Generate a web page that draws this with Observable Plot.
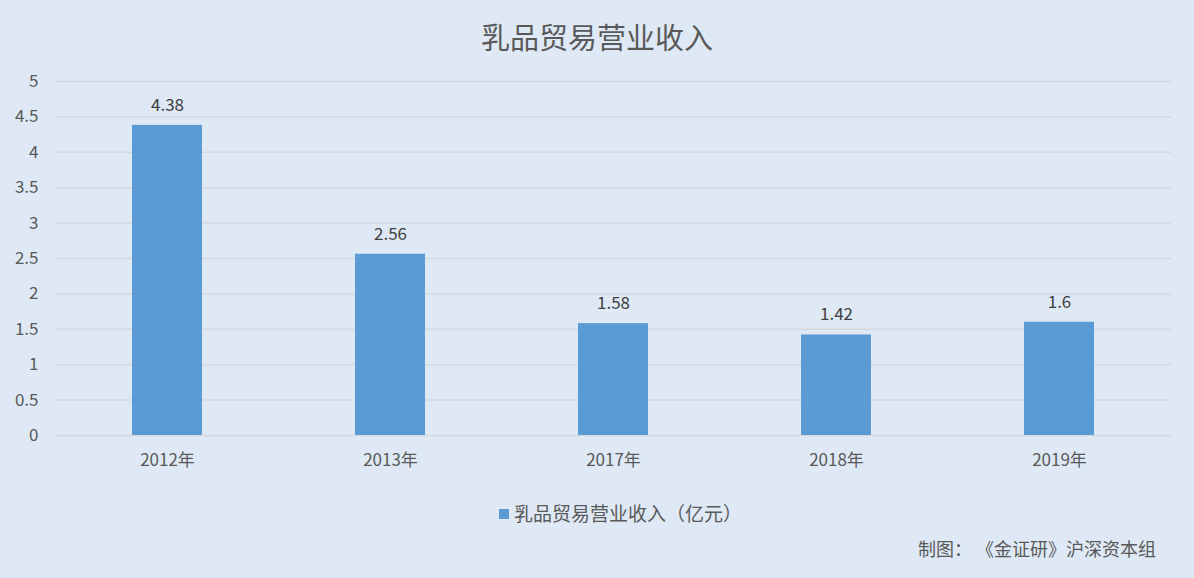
<!DOCTYPE html>
<html><head><meta charset="utf-8">
<script src="https://cdn.jsdelivr.net/npm/d3@7"></script>
<script src="https://cdn.jsdelivr.net/npm/@observablehq/plot@0.6"></script>
<style>
html,body{margin:0;padding:0;background:#dee9f5;}
body{width:1194px;height:578px;overflow:hidden;font-family:"Noto Sans CJK SC","Noto Sans",sans-serif;color:#595959;position:relative;}
#title{height:50px;line-height:72px;text-align:center;font-size:29px;color:#595959;}
#legend{position:absolute;top:499px;left:499px;font-size:19px;white-space:nowrap;}
#legend .sw{display:inline-block;width:10px;height:10px;background:#5b9bd5;margin-right:5px;vertical-align:2px;}
#caption{position:absolute;top:535px;right:38px;font-size:18px;white-space:pre;}
</style></head>
<body>
<div id="title">乳品贸易营业收入</div>
<div id="chart"></div>
<div id="legend"><span class="sw"></span>乳品贸易营业收入（亿元）</div>
<div id="caption">制图： 《金证研》沪深资本组</div>
<script>
const years = ["2012年","2013年","2017年","2018年","2019年"];
const revenue = [4.38, 2.56, 1.58, 1.42, 1.6];
const revenueLabels = ["4.38","2.56","1.58","1.42","1.6"];
const yTicks = [0,0.5,1,1.5,2,2.5,3,3.5,4,4.5,5];

const data = years.map((y,i)=>({year:y, value:revenue[i], label:revenueLabels[i]}));

const chart = Plot.plot({
  width: 1194,
  height: 430,
  marginTop: 31,
  marginBottom: 45,
  marginLeft: 55,
  marginRight: 23,
  style: {background:"transparent", fontFamily:'"Noto Sans CJK SC","Noto Sans",sans-serif', fontSize:"17px", color:"#595959"},
  x: {domain: years, paddingInner: 0.686, paddingOuter: 0.343, label: null},
  y: {domain: [0,5], label: null},
  marks: [
    Plot.gridY(yTicks, {stroke:"#d6d9de", strokeOpacity:1, strokeWidth:1.5}),
    Plot.barY(data, {x:"year", y:"value", fill:"#5b9bd5"}),
    Plot.text(data, {x:"year", y:"value", text:"label", dy:-20, fill:"#404040", fontSize:17}),
    Plot.axisX({tickSize:0, tickPadding:18, fontSize:17}),
    Plot.axisY(yTicks, {tickSize:0, tickPadding:17, fontSize:17, tickFormat: d=>String(d)})
  ]
});
document.getElementById("chart").appendChild(chart);
</script>
</body></html>
